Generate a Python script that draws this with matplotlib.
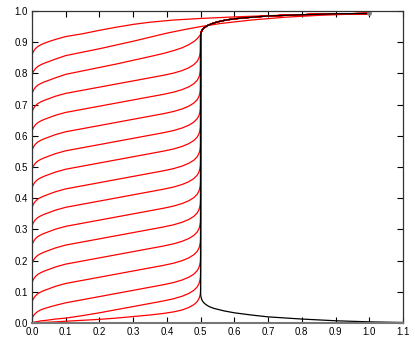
import matplotlib
matplotlib.use("Agg")
import matplotlib.pyplot as plt

# x samples shared by the red trajectories that run into the x = 0.5 line
red_x = [0, 0.001, 0.003, 0.006, 0.01, 0.017, 0.025, 0.035, 0.05, 0.07, 0.1, 0.15, 0.2,
         0.25, 0.3, 0.35, 0.39, 0.42, 0.445, 0.465, 0.48, 0.49, 0.495, 0.498, 0.4995, 0.5]

# rise of a mid-range trajectory above its start value, read at red_x
red_rise = [0, 0.008, 0.014, 0.020, 0.026, 0.033, 0.038, 0.043, 0.049, 0.057, 0.066, 0.076, 0.086,
            0.096, 0.106, 0.116, 0.124, 0.131, 0.139, 0.148, 0.158, 0.169, 0.179, 0.190, 0.200, 0.215]

# start values (y at x = 0) of the mid-range trajectories
red_start = [0.670, 0.609, 0.547, 0.486, 0.427, 0.364, 0.305, 0.244, 0.184, 0.123, 0.061]

# the three lowest trajectories, read separately
low1_y = [0.012, 0.017, 0.021, 0.026, 0.031, 0.037, 0.042, 0.046, 0.051, 0.057, 0.065, 0.075, 0.085,
          0.095, 0.105, 0.115, 0.123, 0.130, 0.138, 0.147, 0.157, 0.168, 0.178, 0.189, 0.199, 0.214]
low2_y = [0.001, 0.0015, 0.002, 0.003, 0.004, 0.005, 0.007, 0.008, 0.010, 0.013, 0.016, 0.024, 0.033,
          0.043, 0.053, 0.063, 0.071, 0.078, 0.086, 0.095, 0.105, 0.116, 0.126, 0.137, 0.147, 0.162]
low3_y = [0, 0.0001, 0.0003, 0.0005, 0.0008, 0.0012, 0.0017, 0.0023, 0.003, 0.004, 0.006, 0.009, 0.012,
          0.016, 0.021, 0.026, 0.031, 0.036, 0.042, 0.050, 0.059, 0.069, 0.078, 0.088, 0.097, 0.110]

# the three top trajectories, which bend straight over to (1, 0.99)
top1_x = [0, 0.001, 0.003, 0.006, 0.01, 0.017, 0.025, 0.035, 0.05, 0.07, 0.1, 0.15, 0.2, 0.25,
          0.3, 0.35, 0.42, 0.5, 0.6, 0.7, 0.8, 0.9, 1.0]
top1_y = [0.853, 0.861, 0.867, 0.873, 0.879, 0.886, 0.891, 0.896, 0.902, 0.909, 0.918, 0.927, 0.938,
          0.948, 0.957, 0.964, 0.971, 0.976, 0.981, 0.985, 0.988, 0.990, 0.992]
top2_x = [0, 0.001, 0.003, 0.006, 0.01, 0.017, 0.025, 0.035, 0.05, 0.07, 0.1, 0.15, 0.2, 0.25,
          0.3, 0.35, 0.4, 0.45, 0.5, 0.56, 0.65, 0.75, 0.85, 1.0]
top2_y = [0.789, 0.797, 0.803, 0.809, 0.815, 0.822, 0.827, 0.832, 0.838, 0.846, 0.857, 0.868, 0.879,
          0.891, 0.903, 0.916, 0.929, 0.940, 0.950, 0.960, 0.971, 0.980, 0.986, 0.992]
top3_x = [0, 0.001, 0.003, 0.006, 0.01, 0.017, 0.025, 0.035, 0.05, 0.07, 0.1, 0.15, 0.2, 0.25,
          0.3, 0.35, 0.39, 0.42, 0.445, 0.465, 0.48, 0.49, 0.495, 0.5]
top3_y = [0.729, 0.737, 0.743, 0.749, 0.755, 0.762, 0.767, 0.772, 0.778, 0.786, 0.797, 0.808, 0.819,
          0.830, 0.842, 0.854, 0.864, 0.873, 0.882, 0.892, 0.902, 0.911, 0.918, 0.925]

# black curve: lower branch (right to left), then upper branch from the top of x = 0.5
black_low_x = [1.1, 1.0, 0.9, 0.8, 0.7, 0.65, 0.6, 0.57, 0.54, 0.525, 0.515, 0.508, 0.504, 0.502, 0.5005, 0.5]
black_low_y = [0.002, 0.004, 0.0075, 0.013, 0.020, 0.026, 0.033, 0.039, 0.047, 0.053, 0.060, 0.067,
               0.074, 0.080, 0.088, 0.100]
black_top_x = [0.5, 0.5005, 0.502, 0.505, 0.51, 0.52, 0.535, 0.55, 0.575, 0.6, 0.65, 0.7, 0.8, 0.9, 1.0]
black_top_y = [0.915, 0.925, 0.933, 0.940, 0.946, 0.953, 0.960, 0.965, 0.971, 0.975, 0.980, 0.984,
               0.988, 0.991, 0.992]

fig = plt.figure(figsize=(4.15, 3.43), dpi=100)
ax = fig.add_axes([0.077, 0.058, 0.894, 0.910])

red = "#ff0000"
lw = 0.9
curves = [[s + r for r in red_rise] for s in red_start] + [low1_y, low2_y, low3_y]
for ys in curves:
    ax.plot(red_x + black_top_x, ys + black_top_y, color=red, lw=lw)
ax.plot(top1_x, top1_y, color=red, lw=lw)
ax.plot(top2_x, top2_y, color=red, lw=lw)
ax.plot(top3_x + black_top_x[1:], top3_y + black_top_y[1:], color=red, lw=lw)

ax.plot(black_low_x + black_top_x, black_low_y + black_top_y, color="black", lw=lw)
ax.plot([1.0], [0.992], "o", color="gray", ms=2.5)

ax.set_xlim(0, 1.1)
ax.set_ylim(0, 1.0)
ax.set_xticks([i / 10 for i in range(12)])
ax.set_yticks([i / 10 for i in range(11)])
ax.set_xticklabels([f"{i / 10:.1f}" for i in range(12)])
ax.set_yticklabels([f"{i / 10:.1f}" for i in range(11)])
ax.tick_params(direction="in", length=4, width=0.8, top=True, right=True,
               labelsize=7, pad=3)
for lab in ax.get_xticklabels() + ax.get_yticklabels():
    lab.set_fontfamily("Liberation Sans")
for s in ax.spines.values():
    s.set_linewidth(0.9)
    s.set_color("#333333")
ax.spines["bottom"].set_color("#777777")
ax.spines["bottom"].set_linewidth(1.5)

fig.savefig("out.png", dpi=100)
